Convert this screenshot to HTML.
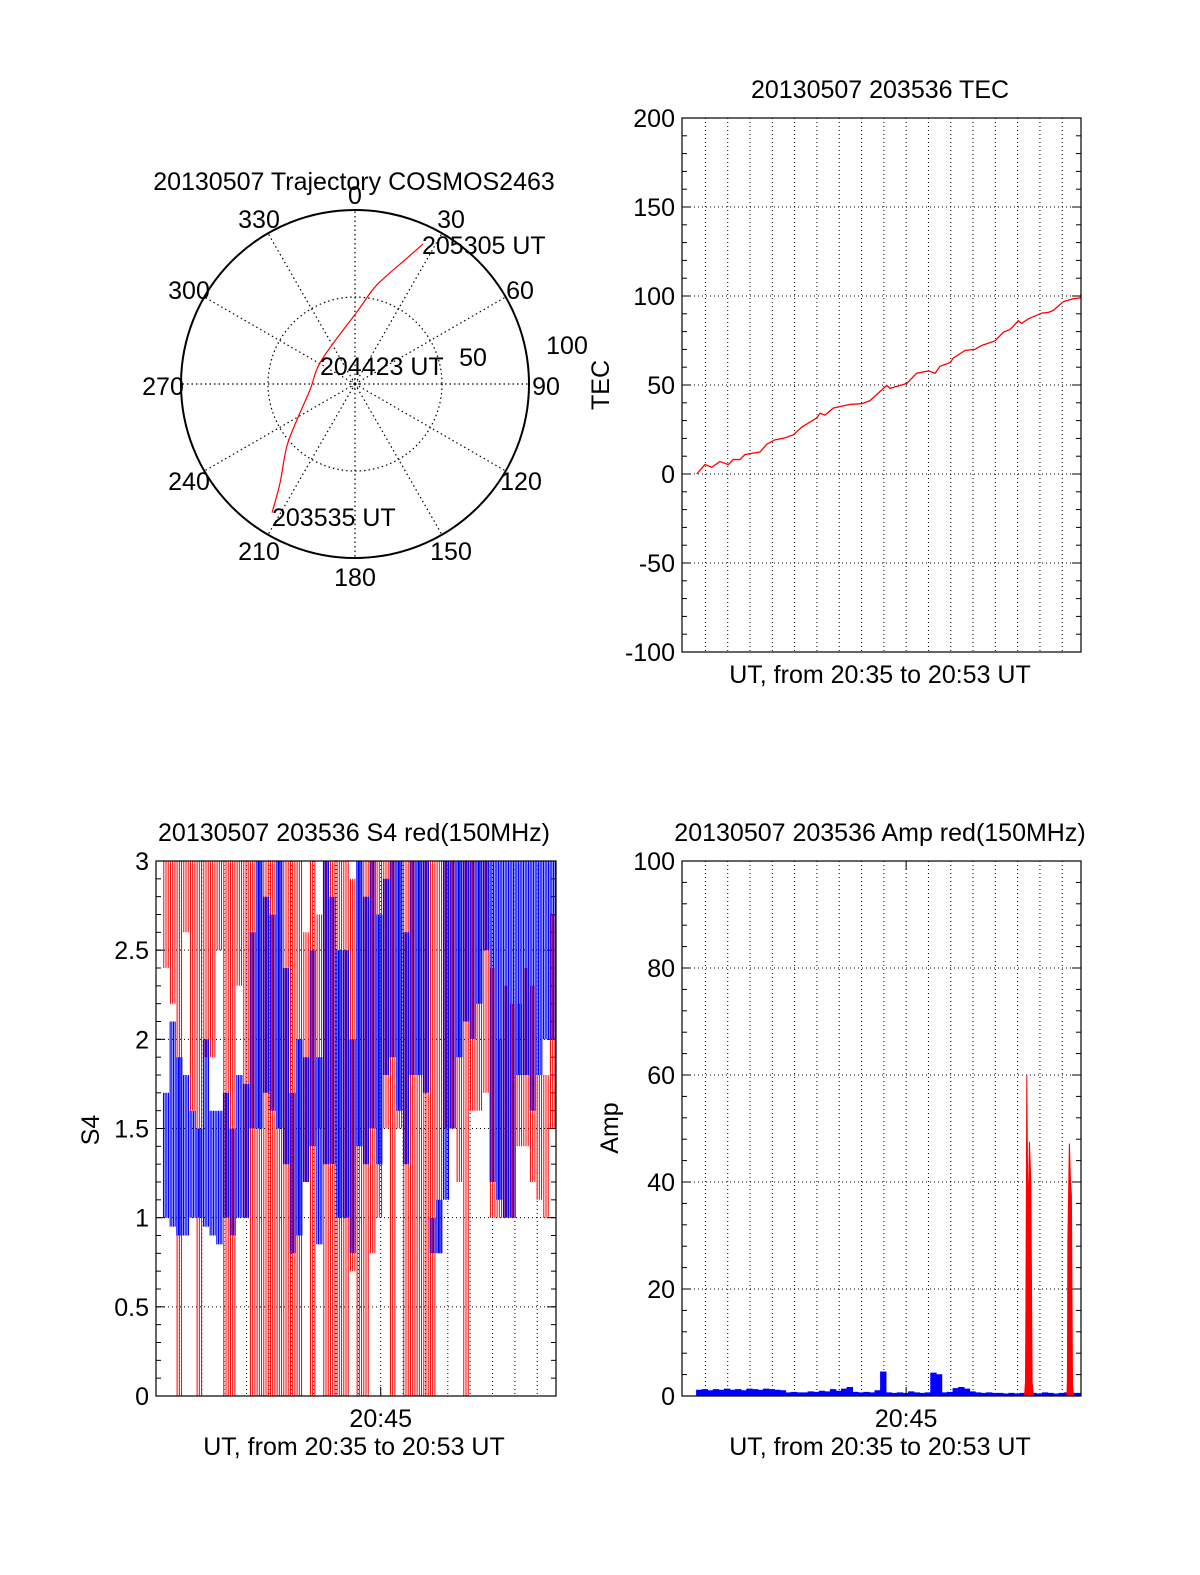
<!DOCTYPE html>
<html><head><meta charset="utf-8"><title>COSMOS2463 20130507</title>
<style>
html,body{margin:0;padding:0;background:#fff;overflow:hidden;width:1200px;height:1575px;}
svg{display:block;font-family:"Liberation Sans",Arial,sans-serif;}
text{fill:#000;font-size:25px;}
</style></head>
<body>
<svg id="chart" width="1200" height="1575" viewBox="0 0 1200 1575" xmlns="http://www.w3.org/2000/svg">
<rect x="0" y="0" width="1200" height="1575" fill="#fff"/>
</svg>
<script>
// ---------- data ----------
const T0 = 34.95, T1 = 52.84; // minutes after 20:00
const gridMinutes = [36,37,38,39,40,41,42,43,44,45,46,47,48,49,50,51,52];

// polar trajectory
const trajAz = [212.8,217.1,227.4,238.2,262.4,305.8,2.6,12.4,22.4,25.9];
const trajR  = [88,71.5,53.3,39.3,26.1,23.6,42.6,58.2,78.1,89.4];
const polarAngleLabels = ['0','30','60','90','120','150','180','210','240','270','300','330'];

// TEC
const tecTime = [35.61,35.98,36.28,36.65,37.03,37.25,37.55,37.77,38.45,38.75,39.12,39.57,39.94,40.32,41.0,41.14,41.36,41.73,42.48,43.01,43.38,44.13,44.28,45.03,45.47,46.0,46.3,46.52,46.97,47.12,47.64,48.09,48.39,48.99,49.36,49.66,50.03,50.18,50.48,51.08,51.38,51.6,52.05,52.5,52.8,52.84];
const tecVal  = [0,5.3,3.8,7,5.3,8.1,8.1,10.9,12.4,16.7,19.2,20.3,22,26.3,31.6,34.2,33.1,37,39.1,39.5,41.2,49.8,48.1,50.9,56.6,57.9,56.6,60.5,62.6,65.2,69.4,70.1,72.2,74.8,79.7,81.2,86.1,84.6,87.2,90.4,90.8,91.9,96.8,98.5,98.9,101.1];
const tecTicks = [200,150,100,50,0,-50,-100];

// S4 (per time bin: low / high envelope)
const s4RedLo  = [null,2.4,2.2,0,2.6,1.6,0,1.9,1.9,2.5,0,0,2.3,1.0,0,0,0,0,0,0,0,0,1.2,0,1.5,0,0,0,0,0.7,0,0,0.8,1.0,1.5,0,1.5,0,0,0,0,0,0.8,1.5,1.5,1.2,0,1.6,1.6,1.7,1.0,1.0,1.0,1.0,1.4,1.4,1.2,1.1,1.0,1.5];
const s4RedHi  = [null,3,3,3,3,3,3,3,3,3,3,3,3,3,3,3,3,3,3,3,3,3,2.6,3,2.7,3,3,3,3,2.9,3,3,3,3,3,3,3,3,3,3,3,3,3,3,3,3,3,3,3,3,2.4,2.0,2.3,2.2,2.2,2.4,2.3,1.8,1.8,2.7];
const s4BlueLo = [null,1.0,0.95,0.9,0.9,1.0,1.0,0.95,0.9,0.85,1.0,0.9,1.0,1.0,1.5,1.5,1.7,1.6,1.5,1.3,0.8,0.9,1.2,1.4,0.85,1.3,1.3,1.0,1.0,0.8,1.4,1.3,1.5,1.3,1.8,1.9,1.6,1.3,1.8,1.8,1.7,0.8,0.8,1.1,1.5,1.9,2.1,2.0,2.2,2.5,1.2,1.1,1.0,1.0,1.8,1.8,1.6,1.8,2.0,2.0];
const s4BlueHi = [null,1.7,2.1,1.9,1.8,1.6,1.5,2.0,1.6,1.6,1.7,1.5,1.8,1.75,2.6,3,2.8,2.7,3,2.4,1.7,2.0,1.9,2.5,1.9,3,2.8,2.5,2.5,2.0,3,2.8,3,2.7,2.9,3,3,2.6,3,3,3,1.0,1.1,3,3,3,3,3,3,3,3,3,3,3,3,3,3,3,3,3];
const s4Ticks = [3,2.5,2,1.5,1,0.5,0];
const s4TickLabels = ['3','2.5','2','1.5','1','0.5','0'];

// Amp
const ampBlue = [1.1,1.2,1.0,1.2,1.1,1.3,1.1,1.2,1.0,1.3,1.2,1.1,1.3,1.2,1.1,1.0,0.6,0.7,0.6,0.6,0.8,0.7,0.9,0.8,1.2,0.9,1.3,1.6,0.7,0.6,0.7,0.6,1.0,4.5,0.6,0.5,0.6,0.5,0.8,0.6,0.5,0.6,4.3,4.0,0.6,0.7,1.4,1.6,1.3,0.8,0.6,0.5,0.6,0.5,0.5,0.4,0.5,0.4,0.5,0.6,0.5,0.4,0.6,0.5,0.4,0.5,0.6,0.5,0.5];
const ampBlueStart = 35.6, ampBlueStep = 0.25;
const ampRedTime = [50.31,50.35,50.37,50.41,50.46,50.53,50.59,50.65,50.71,52.21,52.23,52.25,52.32,52.37,52.41,52.46,52.51];
const ampRedVal  = [0,2.7,16.7,60,32,47.5,40,2.5,0,0,3,29,47.2,40,37.6,2,0];
const ampTicks = [100,80,60,40,20,0];

// ---------- helpers ----------
const NS = 'http://www.w3.org/2000/svg';
const svg = document.getElementById('chart');
function mk(tag, attrs, parent){
  const e = document.createElementNS(NS, tag);
  for (const k in attrs) e.setAttribute(k, attrs[k]);
  (parent || svg).appendChild(e);
  return e;
}
function txt(str, x, y, anchor, parent){
  const t = mk('text', {x:x, y:y, 'text-anchor':anchor||'middle'}, parent);
  t.textContent = str;
  return t;
}
function timeScale(x0, x1){ return t => x0 + (t - T0) / (T1 - T0) * (x1 - x0); }
function linScale(v0, v1, p0, p1){ return v => p0 + (v - v0) / (v1 - v0) * (p1 - p0); }

function frame(g, L, R, T, B, yTicks, yLabels, yScale, minorStep, yMin, yMax){
  gridMinutes.forEach(m => {
    const x = timeScale(L, R)(m);
    const ln = mk('line', {x1:x, x2:x, y1:T, y2:B, stroke:'#000', 'stroke-width':1, 'stroke-dasharray':'1,3'}, g);
    
    
  });
  yTicks.forEach((v, i) => {
    const y = yScale(v);
    if (v !== yMin && v !== yMax) {
      const ln = mk('line', {x1:L, x2:R, y1:y, y2:y, stroke:'#000', 'stroke-width':1, 'stroke-dasharray':'1,3'}, g);
      
      
    }
    const tk1 = mk('line', {x1:L, x2:L+9, y1:y, y2:y, stroke:'#000'}, g);
    
    
    const tk2 = mk('line', {x1:R-9, x2:R, y1:y, y2:y, stroke:'#000'}, g);
    
    
    const lb = txt(yLabels[i], L - 7, y + 9, 'end', g);
    
    
  });
  for (let v = yMin; v <= yMax + 1e-9; v += minorStep) {
    const y = yScale(v);
    const m1 = mk('line', {x1:L, x2:L+5, y1:y, y2:y, stroke:'#000'}, g);
    
    
    const m2 = mk('line', {x1:R-5, x2:R, y1:y, y2:y, stroke:'#000'}, g);
    
    
  }
}
function box(g, L, R, T, B){
  const r = mk('rect', {x:L, y:T, width:R-L, height:B-T, fill:'none', stroke:'#000', 'stroke-width':1.2}, g);
  
  
}

// ---------- polar plot ----------
(function(){
  const g = mk('g', {});
  
  
  const cx = 355, cy = 384, R = 174;
  const tt = txt('20130507 Trajectory COSMOS2463', 354, 190, 'middle', g);
  
  
  for (let a = 0; a < 360; a += 30) {
    const rad = a * Math.PI / 180;
    const sp = mk('line', {x1:cx, y1:cy, x2:cx + R*Math.sin(rad), y2:cy - R*Math.cos(rad), stroke:'#000', 'stroke-width':1.2, 'stroke-dasharray':'1.5,3'}, g);
    
    
  }
  const inner = mk('circle', {cx:cx, cy:cy, r:R/2, fill:'none', stroke:'#000', 'stroke-width':1.2, 'stroke-dasharray':'1.5,3'}, g);
  
  
  const outer = mk('circle', {cx:cx, cy:cy, r:R, fill:'none', stroke:'#000', 'stroke-width':2}, g);
  
  
  const c0 = mk('circle', {cx:cx, cy:cy, r:4, fill:'none', stroke:'#000', 'stroke-width':1, 'stroke-dasharray':'1,2'}, g);
  
  
  const labelPos = [[355,195],[451,219],[520,290],[546,386],[521,481],[451,551],[355,577],[259,551],[189,481],[163,386],[189,290],[259,219]];
  polarAngleLabels.forEach((lab, i) => {
    const t = txt(lab, labelPos[i][0], labelPos[i][1] + 9, 'middle', g);
    
    
  });
  const r100 = txt('100', 567, 354, 'middle', g);
  
  
  const r50 = txt('50', 473, 366, 'middle', g);
  
  
  const pts = trajAz.map((az, i) => {
    const a = az * Math.PI / 180, r = trajR[i] / 100 * R;
    return [cx + r*Math.sin(a), cy - r*Math.cos(a)];
  });
  let d = 'M' + pts[0][0] + ',' + pts[0][1];
  for (let i = 0; i < pts.length - 1; i++) {
    const p0 = pts[Math.max(0,i-1)], p1 = pts[i], p2 = pts[i+1], p3 = pts[Math.min(pts.length-1,i+2)];
    const c1 = [p1[0] + (p2[0]-p0[0])/6, p1[1] + (p2[1]-p0[1])/6];
    const c2 = [p2[0] - (p3[0]-p1[0])/6, p2[1] - (p3[1]-p1[1])/6];
    d += ' C' + c1 + ' ' + c2 + ' ' + p2;
  }
  const tr = mk('path', {d:d, fill:'none', stroke:'#f00', 'stroke-width':1.2}, g);
  
  
  const l1 = txt('205305 UT', 422, 254, 'start', g);
  
  
  const l2 = txt('204423 UT', 320, 375, 'start', g);
  
  
  const l3 = txt('203535 UT', 272, 526, 'start', g);
  
  
})();

// ---------- TEC plot ----------
(function(){
  const L = 682, R = 1081, T = 118, B = 652;
  const g = mk('g', {});
  
  
  const ys = linScale(-100, 200, B, T), xs = timeScale(L, R);
  const t = txt('20130507 203536 TEC', 880, 98, 'middle', g);
  
  
  frame(g, L, R, T, B, tecTicks, tecTicks.map(String), ys, 10, -100, 200);
  const line = mk('polyline', {points: tecTime.map((tm,i) => xs(tm) + ',' + ys(tecVal[i])).join(' '), fill:'none', stroke:'#f00', 'stroke-width':1.3}, g);
  
  
  box(g, L, R, T, B);
  const yl = mk('text', {x:0, y:0, 'text-anchor':'middle', transform:'translate(609,385) rotate(-90)'}, g);
  yl.textContent = 'TEC';
  
  
  const xl = txt('UT, from 20:35 to 20:53 UT', 880, 683, 'middle', g);
  
  
})();

// ---------- S4 plot ----------
(function(){
  const L = 156, R = 556, T = 861, B = 1396;
  const g = mk('g', {});
  
  
  const ys = linScale(0, 3, B, T), xs = timeScale(L, R);
  const t = txt('20130507 203536 S4 red(150MHz)', 354, 841, 'middle', g);
  
  
  frame(g, L, R, T, B, s4Ticks, s4TickLabels, ys, 0.1, 0, 3);
  const n = s4RedLo.length, dt = (T1 - T0) / n;
  function drawSeries(lo, hi, color, name, strokes, sw){
    let d = '';
    for (let i = 0; i < n; i++) {
      if (lo[i] === null) continue;
      const xa = xs(T0 + i*dt), xb = xs(T0 + (i+1)*dt), w = xb - xa;
      for (let k = 0; k < strokes; k++) {
        const x = (xa + (k + 0.5) * w / strokes).toFixed(2);
        d += 'M' + x + ',' + ys(lo[i]).toFixed(1) + 'V' + ys(hi[i]).toFixed(1);
      }
    }
    const p = mk('path', {d:d, fill:'none', stroke:color, 'stroke-width':sw}, g);
    
    
  }
  drawSeries(s4RedLo, s4RedHi, '#f00', 's4-red-series', 3, 1);
  drawSeries(s4BlueLo, s4BlueHi, '#00f', 's4-blue-series', 4, 1.1);
  box(g, L, R, T, B);
  const tk = mk('line', {x1:xs(45), x2:xs(45), y1:B, y2:B-9, stroke:'#000'}, g);
  
  
  const xt = txt('20:45', xs(45), 1427, 'middle', g);
  
  
  const yl = mk('text', {x:0, y:0, 'text-anchor':'middle', transform:'translate(99,1130) rotate(-90)'}, g);
  yl.textContent = 'S4';
  
  
  const xl = txt('UT, from 20:35 to 20:53 UT', 354, 1455, 'middle', g);
  
  
})();

// ---------- Amp plot ----------
(function(){
  const L = 682, R = 1081, T = 861, B = 1396;
  const g = mk('g', {});
  
  
  const ys = linScale(0, 100, B, T), xs = timeScale(L, R);
  const t = txt('20130507 203536 Amp red(150MHz)', 880, 841, 'middle', g);
  
  
  frame(g, L, R, T, B, ampTicks, ampTicks.map(String), ys, 4, 0, 100);
  let d = 'M' + xs(ampBlueStart) + ',' + ys(0);
  ampBlue.forEach((v, i) => {
    const xa = xs(ampBlueStart + i*ampBlueStep), xb = xs(Math.min(T1, ampBlueStart + (i+1)*ampBlueStep));
    d += ' L' + xa.toFixed(2) + ',' + ys(v).toFixed(2) + ' L' + xb.toFixed(2) + ',' + ys(v).toFixed(2);
  });
  d += ' L' + xs(Math.min(T1, ampBlueStart + ampBlue.length*ampBlueStep)) + ',' + ys(0) + 'Z';
  const bl = mk('path', {d:d, fill:'#00f', stroke:'#00f', 'stroke-width':0.8}, g);
  
  
  let dr = '';
  ampRedTime.forEach((tm, i) => {
    const newSeg = (i === 0) || (ampRedTime[i] - ampRedTime[i-1] > 0.5);
    dr += (newSeg ? ' M' : ' L') + xs(tm).toFixed(2) + ',' + ys(ampRedVal[i]).toFixed(2);
  });
  const rd = mk('path', {d:dr, fill:'#f00', stroke:'#f00', 'stroke-width':1}, g);
  
  
  box(g, L, R, T, B);
  const tk = mk('line', {x1:xs(45), x2:xs(45), y1:B, y2:B-9, stroke:'#000'}, g);
  
  
  const tk2 = mk('line', {x1:xs(45), x2:xs(45), y1:T, y2:T+9, stroke:'#000'}, g);
  
  
  const xt = txt('20:45', xs(45), 1427, 'middle', g);
  
  
  const yl = mk('text', {x:0, y:0, 'text-anchor':'middle', transform:'translate(618,1128) rotate(-90)'}, g);
  yl.textContent = 'Amp';
  
  
  const xl = txt('UT, from 20:35 to 20:53 UT', 880, 1455, 'middle', g);
  
  
})();
</script>
</body></html>
